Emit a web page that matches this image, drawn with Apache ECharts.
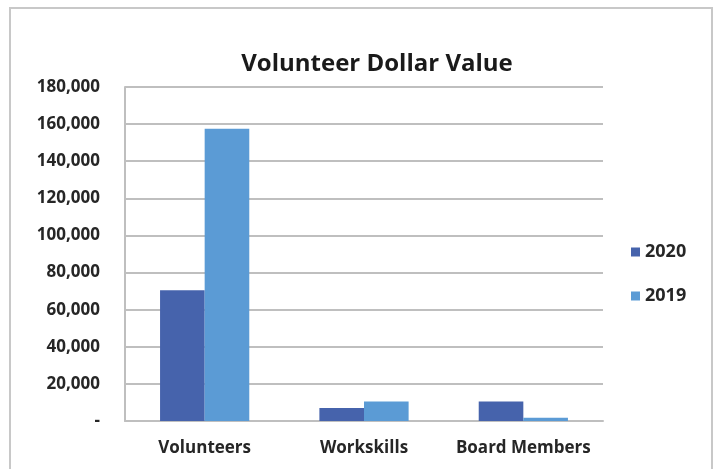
<!DOCTYPE html>
<html>
<head>
<meta charset="UTF-8">
<title>Volunteer Dollar Value</title>
<script src="https://cdn.jsdelivr.net/npm/echarts@6/dist/echarts.min.js"></script>
<style>
  html, body { margin: 0; padding: 0; background: #fff; }
  #main { width: 716px; height: 469px; }
</style>
</head>
<body>
<div id="main"></div>
<script>
// categories and values
var categories = ['Volunteers', 'Workskills', 'Board Members'];
var values2020 = [70500, 7000, 10500];
var values2019 = [157500, 10500, 1800];
var yTicks = [0, 20000, 40000, 60000, 80000, 100000, 120000, 140000, 160000, 180000];

var fontFam = '"Open Sans", "Noto Sans", sans-serif';

function fmt(v) {
    if (v === 0) return '-';
    return v.toString().replace(/\B(?=(\d{3})+(?!\d))/g, ',');
}

var option = {
    animation: false,
    backgroundColor: '#fff',
    title: {
        text: 'Volunteer Dollar Value',
        left: 372,
        top: 47,
        textAlign: 'center',
        textStyle: { fontFamily: fontFam, fontSize: 24, fontWeight: 'bold', color: '#1a1a1a' }
    },
    legend: {
        orient: 'vertical',
        left: 626,
        top: 238,
        itemWidth: 9,
        itemHeight: 9,
        itemGap: 26,
        icon: 'rect',
        data: ['2020', '2019'],
        textStyle: { fontFamily: fontFam, fontSize: 18, fontWeight: 'bold', color: '#262626' }
    },
    grid: { left: 125, right: 113, top: 87, bottom: 48, containLabel: false },
    xAxis: {
        type: 'category',
        data: categories,
        axisLine: { lineStyle: { color: '#bfbfbf', width: 2 } },
        axisTick: { show: false },
        axisLabel: { interval: 0, margin: 19, fontFamily: fontFam, fontSize: 17, fontWeight: 'bold', color: '#262626' }
    },
    yAxis: {
        type: 'value',
        min: yTicks[0],
        max: yTicks[yTicks.length - 1],
        interval: yTicks[1] - yTicks[0],
        axisLine: { show: true, lineStyle: { color: '#bfbfbf', width: 2 } },
        axisTick: { show: false },
        splitLine: { lineStyle: { color: '#bfbfbf', width: 2 } },
        axisLabel: {
            margin: 25,
            formatter: fmt,
            fontFamily: fontFam, fontSize: 17, fontWeight: 'bold', color: '#262626'
        }
    },
    series: [
        {
            name: '2020',
            type: 'bar',
            data: values2020,
            barGap: '0%',
            barCategoryGap: '44%',
            itemStyle: { color: '#4663ac' }
        },
        {
            name: '2019',
            type: 'bar',
            data: values2019,
            itemStyle: { color: '#5b9bd5' }
        }
    ],
    graphic: [{
        type: 'rect',
        shape: { x: 10, y: 8, width: 702, height: 470 },
        style: { fill: 'none', stroke: '#c8c8c8', lineWidth: 2 },
        silent: true
    }]
};

var myChart = echarts.init(document.getElementById('main'));
myChart.setOption(option);
</script>
</body>
</html>
